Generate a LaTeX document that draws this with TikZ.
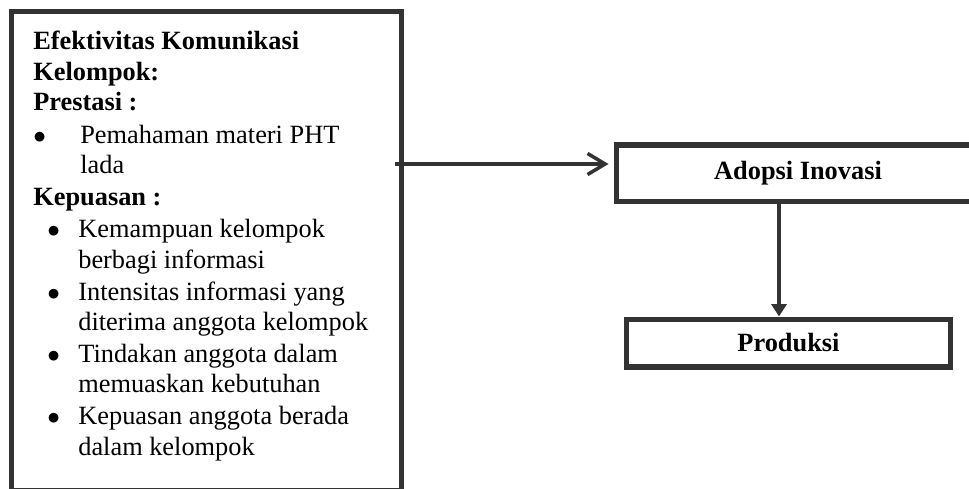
\documentclass[tikz,border=0pt]{standalone}
\usepackage{fontspec}
\setmainfont{Liberation Serif}
\usetikzlibrary{arrows.meta}
\definecolor{garis}{HTML}{333333}

\begin{document}
\begin{tikzpicture}[x=0.02cm,y=-0.02cm]
    \clip (0,0) rectangle (969,489);

        \begin{scope}[every node/.style={rectangle,draw=garis,line width=2.85pt,inner sep=0pt,font=\fontsize{15pt}{18pt}\selectfont\bfseries}]
            \node[minimum width=7.82cm,minimum height=9.6cm] (efektivitas) at (206.5,251) {};
            \node[minimum width=7.28cm,minimum height=1.14cm] (adopsi) at (798,173.5) {Adopsi Inovasi};
            \node[minimum width=6.5cm,minimum height=0.96cm] (produksi) at (788.5,343) {Produksi};
        \end{scope}

        % the base of this node is the baseline of its last line
        \node[anchor=base west,inner sep=0pt,align=left,font=\fontsize{15pt}{17.3pt}\selectfont] (isi) at (33,455) {%
            \textbf{Efektivitas Komunikasi}\\
            \textbf{Kelompok:}\\
            \textbf{Prestasi :}\\[1.2pt]
            \makebox[0.94cm][l]{$\bullet$}Pemahaman materi PHT\\
            \hspace*{0.94cm}lada\\[0.7pt]
            \textbf{Kepuasan :}\\[1.2pt]
            \hspace*{0.28cm}\makebox[0.62cm][l]{$\bullet$}Kemampuan kelompok\\
            \hspace*{0.9cm}berbagi informasi\\[1.2pt]
            \hspace*{0.28cm}\makebox[0.62cm][l]{$\bullet$}Intensitas informasi yang\\
            \hspace*{0.9cm}diterima anggota kelompok\\[0.7pt]
            \hspace*{0.28cm}\makebox[0.62cm][l]{$\bullet$}Tindakan anggota dalam\\
            \hspace*{0.9cm}memuaskan kebutuhan\\[0.7pt]
            \hspace*{0.28cm}\makebox[0.62cm][l]{$\bullet$}Kepuasan anggota berada\\
            \hspace*{0.9cm}dalam kelompok};

        \coordinate (kiri) at (395,164);
        \coordinate (tengah) at (779,0);

        \begin{scope}[every edge/.style={draw=garis,line width=2pt}]
            \path [-{Straight Barb[length=10pt,width=12pt]},shorten >=0.1cm] (kiri) edge (kiri -| adopsi.west);
            \path [-{Triangle[length=7pt,width=8.5pt]}] (adopsi.south -| tengah) edge (produksi.north -| tengah);
        \end{scope}

\end{tikzpicture}
\end{document}
